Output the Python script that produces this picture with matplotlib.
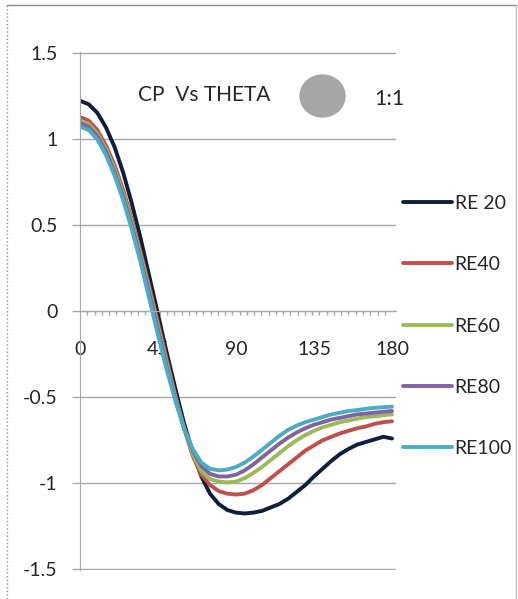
import numpy as np
import matplotlib.pyplot as plt
from matplotlib.patches import Ellipse
from matplotlib.lines import Line2D

plt.rcParams['font.family'] = ['Lato', 'DejaVu Sans']

# pressure coefficient around the cylinder, sampled every 5 degrees
theta = np.arange(0, 181, 5)

cp_re20 = [1.22, 1.20, 1.15, 1.065, 0.95, 0.80, 0.62, 0.42, 0.20, -0.02,
           -0.24, -0.45, -0.65, -0.82, -0.96, -1.06, -1.12, -1.155, -1.17, -1.175,
           -1.17, -1.16, -1.14, -1.12, -1.09, -1.05, -1.01, -0.96, -0.915, -0.87,
           -0.83, -0.80, -0.775, -0.76, -0.745, -0.73, -0.74]
cp_re40 = [1.125, 1.105, 1.05, 0.96, 0.845, 0.70, 0.53, 0.34, 0.14, -0.07,
           -0.28, -0.49, -0.68, -0.84, -0.95, -1.01, -1.045, -1.06, -1.065, -1.06,
           -1.04, -1.01, -0.97, -0.93, -0.89, -0.85, -0.81, -0.78, -0.75, -0.73,
           -0.71, -0.695, -0.68, -0.67, -0.655, -0.645, -0.64]
cp_re60 = [1.105, 1.085, 1.03, 0.94, 0.825, 0.68, 0.51, 0.32, 0.12, -0.09,
           -0.30, -0.50, -0.68, -0.83, -0.93, -0.975, -0.99, -0.995, -0.99, -0.97,
           -0.94, -0.905, -0.865, -0.825, -0.785, -0.75, -0.72, -0.695, -0.675, -0.66,
           -0.645, -0.635, -0.625, -0.615, -0.61, -0.605, -0.60]
cp_re80 = [1.09, 1.07, 1.015, 0.925, 0.805, 0.66, 0.49, 0.30, 0.10, -0.11,
           -0.32, -0.51, -0.68, -0.81, -0.90, -0.945, -0.96, -0.96, -0.95, -0.925,
           -0.89, -0.85, -0.81, -0.77, -0.735, -0.705, -0.68, -0.66, -0.645, -0.63,
           -0.62, -0.61, -0.60, -0.595, -0.59, -0.585, -0.58]
cp_re100 = [1.07, 1.05, 0.995, 0.905, 0.785, 0.64, 0.47, 0.28, 0.07, -0.14,
            -0.34, -0.52, -0.68, -0.80, -0.88, -0.915, -0.925, -0.92, -0.905, -0.88,
            -0.845, -0.805, -0.765, -0.725, -0.69, -0.665, -0.645, -0.63, -0.615, -0.60,
            -0.59, -0.58, -0.575, -0.567, -0.562, -0.558, -0.555]

series = [cp_re20, cp_re40, cp_re60, cp_re80, cp_re100]
labels = ['RE 20', 'RE40', 'RE60', 'RE80', 'RE100']
colors = ['#0e1f3d', '#c0504d', '#9bbb59', '#8064a2', '#4bacc6']

x_ticks = [0, 45, 90, 135, 180]
y_ticks = [-1.5, -1, -0.5, 0, 0.5, 1, 1.5]
y_labels = ['-1.5', '-1', '-0.5', '0', '0.5', '1', '1.5']

W, H = 518, 599
grid_col = '#a8a8a8'
txt_col = '#262626'
fs = 14

fig = plt.figure(figsize=(W / 100, H / 100), dpi=100)
ax = fig.add_axes([80 / W, 29 / H, 316 / W, 518 / H])

for cp, lab, col in zip(series, labels, colors):
    ax.plot(theta, cp, color=col, lw=2.8, label=lab,
            solid_capstyle='round', solid_joinstyle='round')

ax.set_xlim(0, 182.3)
ax.set_ylim(-1.503, 1.503)

ax.set_yticks(y_ticks)
ax.set_yticklabels(y_labels)
ax.yaxis.grid(True, color=grid_col, lw=1)
ax.tick_params(axis='y', direction='out', length=5.8, width=1, color=grid_col,
               pad=10.5, labelsize=fs, labelcolor=txt_col)

ax.set_xticks(x_ticks)
ax.set_xticks([k * 180 / 43 for k in range(1, 44)], minor=True)
ax.tick_params(axis='x', which='major', length=0, pad=21.5,
               labelsize=fs, labelcolor=txt_col)
ax.tick_params(axis='x', which='minor', direction='out', length=3.2,
               width=1, color=grid_col)

for side in ['top', 'right']:
    ax.spines[side].set_visible(False)
ax.spines['bottom'].set_position(('data', 0))
ax.spines['bottom'].set_color(grid_col)
ax.spines['left'].set_color(grid_col)

ax.legend(loc='center left', bbox_to_anchor=(403 / W, 1 - 326 / H),
          bbox_transform=fig.transFigure, frameon=False, fontsize=fs,
          handlelength=2.5, handletextpad=0.15, labelspacing=2.28,
          borderpad=0, borderaxespad=0, labelcolor=txt_col)

# header: title, grey disc and aspect ratio
fig.text(138 / W, 1 - 95 / H, 'CP  Vs THETA', ha='left', va='center',
         fontsize=15, color=txt_col)
fig.add_artist(Ellipse((322.5 / W, 1 - 96 / H), 45 / W, 42 / H,
                       transform=fig.transFigure, color='#a6a6a6'))
fig.text(374 / W, 1 - 99 / H, '1:1', ha='left', va='center',
         fontsize=15.5, color=txt_col)

# outer chart frame
fig.add_artist(Line2D([7 / W, 7 / W], [0, 1 - 5 / H], transform=fig.transFigure,
                      color='#8c8c8c', lw=1, ls=':'))
fig.add_artist(Line2D([7 / W, 516 / W], [1 - 5 / H, 1 - 5 / H],
                      transform=fig.transFigure, color='#8c8c8c', lw=1))
fig.add_artist(Line2D([516 / W, 516 / W], [0, 1 - 5 / H],
                      transform=fig.transFigure, color='#bdbdbd', lw=1))

fig.savefig('out.png', dpi=100)
